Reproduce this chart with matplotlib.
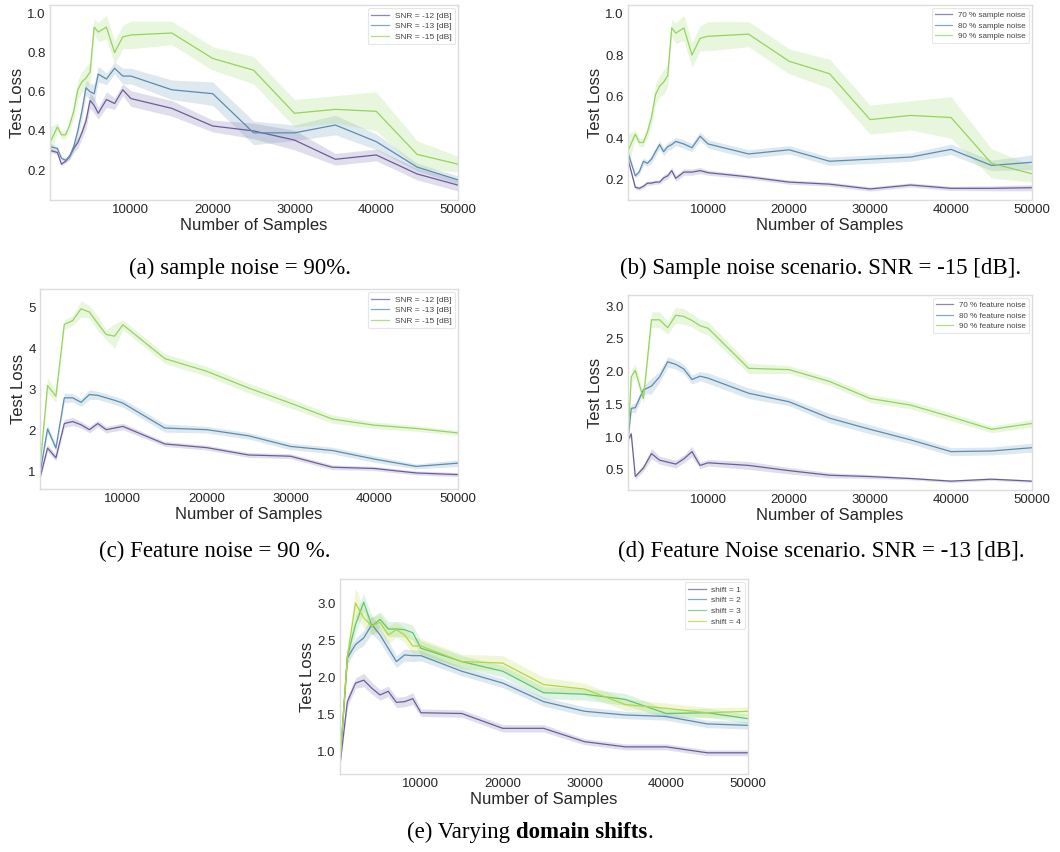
import matplotlib
matplotlib.use("Agg")
import matplotlib.pyplot as plt
import numpy as np

# ---------------- data ----------------
xs_sample = [100, 1000, 1500, 2000, 2500, 3000, 3500, 4000, 4500, 5000, 5500, 6000,
             7000, 8000, 9000, 10000, 15000, 20000, 25000, 30000, 35000, 40000, 45000, 50000]

# (a) sample noise = 90 %
a_snr12 = [0.30, 0.29, 0.23, 0.245, 0.27, 0.31, 0.34, 0.39, 0.45, 0.555, 0.53, 0.49,
           0.56, 0.54, 0.61, 0.565, 0.515, 0.425, 0.40, 0.353, 0.255, 0.277, 0.18, 0.123]
a_snr12_err = [0.01, 0.01, 0.01, 0.01, 0.015, 0.02, 0.03, 0.03, 0.04, 0.04, 0.04, 0.03,
               0.04, 0.03, 0.03, 0.04, 0.04, 0.03, 0.04, 0.05, 0.03, 0.03, 0.03, 0.03]
a_snr13 = [0.32, 0.31, 0.26, 0.25, 0.27, 0.32, 0.40, 0.50, 0.62, 0.60, 0.59, 0.69,
           0.665, 0.72, 0.68, 0.68, 0.61, 0.59, 0.39, 0.39, 0.43, 0.345, 0.215, 0.15]
a_snr13_err = [0.02, 0.01, 0.01, 0.01, 0.015, 0.02, 0.03, 0.04, 0.04, 0.04, 0.05, 0.04,
               0.03, 0.03, 0.04, 0.04, 0.05, 0.06, 0.06, 0.04, 0.05, 0.04, 0.02, 0.02]
a_snr15 = [0.34, 0.42, 0.38, 0.38, 0.43, 0.50, 0.61, 0.65, 0.67, 0.70, 0.93, 0.905,
           0.93, 0.80, 0.88, 0.89, 0.90, 0.77, 0.71, 0.49, 0.51, 0.50, 0.28, 0.23]
a_snr15_err = [0.08, 0.02, 0.02, 0.02, 0.03, 0.04, 0.05, 0.05, 0.06, 0.05, 0.04, 0.05,
               0.06, 0.06, 0.06, 0.07, 0.06, 0.06, 0.07, 0.07, 0.07, 0.10, 0.07, 0.04]
a_labels = ["SNR = -12 [dB]", "SNR = -13 [dB]", "SNR = -15 [dB]"]

# (b) sample noise scenario, SNR = -15 dB
b_70 = [0.30, 0.165, 0.16, 0.17, 0.185, 0.185, 0.19, 0.19, 0.21, 0.22, 0.245, 0.208,
        0.238, 0.238, 0.245, 0.235, 0.215, 0.19, 0.18, 0.157, 0.176, 0.16, 0.16, 0.163]
b_70_err = [0.01, 0.01, 0.01, 0.01, 0.01, 0.01, 0.01, 0.01, 0.015, 0.015, 0.015, 0.015,
            0.015, 0.015, 0.015, 0.012, 0.01, 0.01, 0.01, 0.01, 0.01, 0.01, 0.012, 0.015]
b_80 = [0.33, 0.22, 0.24, 0.29, 0.28, 0.30, 0.336, 0.37, 0.336, 0.36, 0.37, 0.385,
        0.373, 0.355, 0.41, 0.373, 0.325, 0.345, 0.29, 0.30, 0.31, 0.347, 0.27, 0.285]
b_80_err = [0.02, 0.01, 0.015, 0.015, 0.015, 0.02, 0.02, 0.02, 0.02, 0.02, 0.02, 0.02,
            0.02, 0.02, 0.02, 0.02, 0.02, 0.02, 0.02, 0.02, 0.02, 0.025, 0.025, 0.035]
b_90 = list(a_snr15)
b_90_err = list(a_snr15_err)
b_labels = ["70 % sample noise", "80 % sample noise", "90 % sample noise"]

xs_feat = [100, 1000, 2000, 3000, 4000, 5000, 6000, 7000, 8000, 9000, 10000,
           15000, 20000, 25000, 30000, 35000, 40000, 45000, 50000]

# (c) feature noise = 90 %
c_snr12 = [0.84, 1.57, 1.33, 2.17, 2.22, 2.14, 2.02, 2.17, 2.02, 2.06, 2.10,
           1.67, 1.58, 1.40, 1.37, 1.10, 1.07, 0.96, 0.92]
c_snr12_err = [0.05, 0.08, 0.08, 0.1, 0.1, 0.08, 0.08, 0.08, 0.08, 0.08, 0.08,
               0.06, 0.06, 0.06, 0.06, 0.06, 0.05, 0.05, 0.05]
c_snr13 = [0.95, 2.04, 1.57, 2.80, 2.80, 2.69, 2.88, 2.86, 2.80, 2.74, 2.67,
           2.06, 2.02, 1.87, 1.61, 1.51, 1.30, 1.12, 1.20]
c_snr13_err = [0.05, 0.1, 0.08, 0.12, 0.1, 0.1, 0.12, 0.1, 0.1, 0.1, 0.1,
               0.1, 0.08, 0.08, 0.08, 0.08, 0.08, 0.06, 0.08]
c_snr15 = [1.10, 3.10, 2.84, 4.60, 4.69, 4.98, 4.90, 4.62, 4.35, 4.31, 4.59,
           3.76, 3.45, 3.04, 2.67, 2.28, 2.13, 2.05, 1.94]
c_snr15_err = [0.1, 0.18, 0.15, 0.12, 0.12, 0.2, 0.15, 0.18, 0.12, 0.3, 0.12,
               0.12, 0.12, 0.12, 0.12, 0.1, 0.08, 0.07, 0.06]
c_labels = ["SNR = -12 [dB]", "SNR = -13 [dB]", "SNR = -15 [dB]"]

# (d) feature noise scenario, SNR = -13 dB
xs_d = [100, 500, 1000, 2000, 3000, 4000, 5000, 6000, 7000, 8000, 9000, 10000,
        15000, 20000, 25000, 30000, 35000, 40000, 45000, 50000]
d_70 = [0.96, 1.05, 0.40, 0.53, 0.75, 0.65, 0.62, 0.59, 0.67, 0.78, 0.57, 0.61,
        0.57, 0.49, 0.42, 0.40, 0.37, 0.33, 0.36, 0.33]
d_70_err = [0.03, 0.04, 0.04, 0.05, 0.08, 0.06, 0.06, 0.06, 0.06, 0.08, 0.05, 0.05,
            0.06, 0.05, 0.04, 0.03, 0.02, 0.02, 0.02, 0.02]
d_80 = [0.96, 1.44, 1.45, 1.72, 1.78, 1.92, 2.15, 2.11, 2.04, 1.88, 1.93, 1.90,
        1.67, 1.54, 1.29, 1.12, 0.96, 0.78, 0.79, 0.84]
d_80_err = [0.03, 0.06, 0.08, 0.06, 0.12, 0.08, 0.08, 0.07, 0.07, 0.07, 0.07, 0.08,
            0.08, 0.06, 0.07, 0.07, 0.06, 0.06, 0.06, 0.07]
d_90 = [0.96, 1.92, 2.02, 1.59, 2.79, 2.79, 2.67, 2.86, 2.84, 2.78, 2.70, 2.66,
        2.05, 2.03, 1.85, 1.59, 1.49, 1.31, 1.12, 1.21]
d_90_err = [0.03, 0.1, 0.1, 0.08, 0.12, 0.12, 0.1, 0.12, 0.12, 0.1, 0.1, 0.1,
            0.08, 0.06, 0.06, 0.06, 0.06, 0.06, 0.05, 0.06]
d_labels = ["70 % feature noise", "80 % feature noise", "90 % feature noise"]

# (e) domain shifts
e_shift1 = [0.82, 1.67, 1.92, 1.96, 1.85, 1.76, 1.81, 1.66, 1.67, 1.71, 1.52,
            1.51, 1.31, 1.31, 1.13, 1.06, 1.06, 0.98, 0.98]
e_shift1_err = [0.03, 0.07, 0.07, 0.09, 0.08, 0.07, 0.07, 0.07, 0.07, 0.08, 0.05,
                0.05, 0.05, 0.05, 0.04, 0.04, 0.04, 0.04, 0.04]
e_shift2 = [0.85, 2.26, 2.44, 2.53, 2.71, 2.57, 2.39, 2.21, 2.30, 2.29, 2.29,
            2.08, 1.92, 1.67, 1.54, 1.49, 1.47, 1.37, 1.35]
e_shift2_err = [0.03, 0.08, 0.08, 0.1, 0.12, 0.1, 0.1, 0.08, 0.08, 0.08, 0.07,
                0.06, 0.06, 0.06, 0.06, 0.05, 0.05, 0.05, 0.05]
e_shift3 = [0.85, 2.28, 2.71, 3.01, 2.69, 2.78, 2.65, 2.65, 2.64, 2.60, 2.39,
            2.21, 2.08, 1.79, 1.77, 1.70, 1.51, 1.52, 1.44]
e_shift3_err = [0.03, 0.1, 0.12, 0.12, 0.12, 0.1, 0.1, 0.1, 0.1, 0.1, 0.1,
                0.08, 0.08, 0.08, 0.08, 0.08, 0.06, 0.06, 0.06]
e_shift4 = [0.85, 2.28, 3.00, 2.80, 2.69, 2.74, 2.57, 2.64, 2.57, 2.42, 2.42,
            2.21, 2.19, 1.90, 1.84, 1.63, 1.58, 1.52, 1.54]
e_shift4_err = [0.03, 0.1, 0.2, 0.12, 0.12, 0.12, 0.12, 0.1, 0.1, 0.12, 0.1,
                0.1, 0.1, 0.1, 0.08, 0.08, 0.07, 0.07, 0.06]
e_labels = ["shift = 1", "shift = 2", "shift = 3", "shift = 4"]

x_ticks = [10000, 20000, 30000, 40000, 50000]

# ---------------- style ----------------
plt.rcParams['font.family'] = ['Liberation Sans', 'DejaVu Sans']
C_PURPLE = '#6c5c9f'
C_BLUE = '#5b8cb2'
C_GREEN = '#94d45a'
C_TEAL = '#5fc47a'
C_YG = '#b0d83c'
TXT = '#262626'
SPINE = '#dcdcdc'

W, H = 1060, 852
fig = plt.figure(figsize=(W / 100, H / 100), dpi=100)


def add_axes(left, top, right, bottom):
    return fig.add_axes([left / W, 1 - bottom / H, (right - left) / W, (bottom - top) / H])


def panel(ax, x, series, errs, labels, colors, ylim, yticks, yfmt, leg_fs=6.0):
    for y, e, lab, c in zip(series, errs, labels, colors):
        y = np.asarray(y, float)
        e = np.asarray(e, float)
        ax.fill_between(x, y - e, y + e, color=c, alpha=0.2, linewidth=0)
        ax.plot(x, y, color=c, lw=0.9, label=lab)
    ax.set_xlim(x[0], 50000)
    ax.set_ylim(*ylim)
    ax.set_xticks(x_ticks)
    ax.set_xticklabels([str(t) for t in x_ticks])
    ax.set_yticks(yticks)
    ax.set_yticklabels([yfmt.format(t) for t in yticks])
    ax.tick_params(length=0, labelsize=9.5, colors=TXT, pad=3)
    for s in ax.spines.values():
        s.set_color(SPINE)
        s.set_linewidth(1.0)
    ax.set_xlabel("Number of Samples", fontsize=12, color=TXT, labelpad=1)
    ax.set_ylabel("Test Loss", fontsize=12, color=TXT, labelpad=2)
    leg = ax.legend(loc='upper right', fontsize=leg_fs, frameon=True, fancybox=True,
                    borderpad=0.4, handlelength=2.1, labelspacing=0.35,
                    handletextpad=0.7, borderaxespad=0.4)
    leg.get_frame().set_edgecolor('#e0e0e0')
    leg.get_frame().set_linewidth(0.8)
    for t in leg.get_texts():
        t.set_color('#444444')
    for h in leg.get_lines():
        h.set_alpha(0.75)


axa = add_axes(50, 5, 458, 200)
panel(axa, xs_sample, [a_snr12, a_snr13, a_snr15], [a_snr12_err, a_snr13_err, a_snr15_err],
      a_labels, [C_PURPLE, C_BLUE, C_GREEN], (0.047, 1.043), [0.2, 0.4, 0.6, 0.8, 1.0], "{:.1f}")

axb = add_axes(628, 5, 1032, 200)
panel(axb, xs_sample, [b_70, b_80, b_90], [b_70_err, b_80_err, b_90_err],
      b_labels, [C_PURPLE, C_BLUE, C_GREEN], (0.104, 1.04), [0.2, 0.4, 0.6, 0.8, 1.0], "{:.1f}",
      leg_fs=5.8)

axc = add_axes(40, 289, 458, 489)
panel(axc, xs_feat, [c_snr12, c_snr13, c_snr15], [c_snr12_err, c_snr13_err, c_snr15_err],
      c_labels, [C_PURPLE, C_BLUE, C_GREEN], (0.567, 5.465), [1, 2, 3, 4, 5], "{:d}")

axd = add_axes(628, 295, 1032, 490)
panel(axd, xs_d, [d_70, d_80, d_90], [d_70_err, d_80_err, d_90_err],
      d_labels, [C_PURPLE, C_BLUE, C_GREEN], (0.195, 3.168), [0.5, 1.0, 1.5, 2.0, 2.5, 3.0], "{:.1f}",
      leg_fs=5.8)

axe = add_axes(340, 579, 748, 774)
panel(axe, xs_feat, [e_shift1, e_shift2, e_shift3, e_shift4],
      [e_shift1_err, e_shift2_err, e_shift3_err, e_shift4_err],
      e_labels, [C_PURPLE, C_BLUE, C_TEAL, C_YG], (0.694, 3.324), [1.0, 1.5, 2.0, 2.5, 3.0], "{:.1f}")

# ---------------- captions ----------------
CAP = dict(fontsize=16.5, family=['Liberation Serif', 'DejaVu Serif'], color='black', va='center')
fig.text(240 / W, 1 - 268 / H, "(a) sample noise = 90%.", ha='center', **CAP)
fig.text(821 / W, 1 - 268 / H, "(b) Sample noise scenario. SNR = -15 [dB].", ha='center', **CAP)
fig.text(215 / W, 1 - 551 / H, "(c) Feature noise = 90 %.", ha='center', **CAP)
fig.text(821 / W, 1 - 551 / H, "(d) Feature Noise scenario. SNR = -13 [dB].", ha='center', **CAP)

# (e) caption with bold part
parts = [("(e) Varying ", 'normal'), ("domain shifts", 'bold'), (".", 'normal')]
fig.canvas.draw()
renderer = fig.canvas.get_renderer()
texts = []
widths = []
for s, wgt in parts:
    t = fig.text(0, 1 - 832 / H, s, ha='left', fontweight=wgt, **CAP)
    bb = t.get_window_extent(renderer=renderer)
    texts.append(t)
    widths.append(bb.width)
total = sum(widths)
xpos = 530 - total / 2
for t, w in zip(texts, widths):
    t.set_x(xpos / W)
    xpos += w

fig.savefig("out.png", dpi=100, facecolor='white')
